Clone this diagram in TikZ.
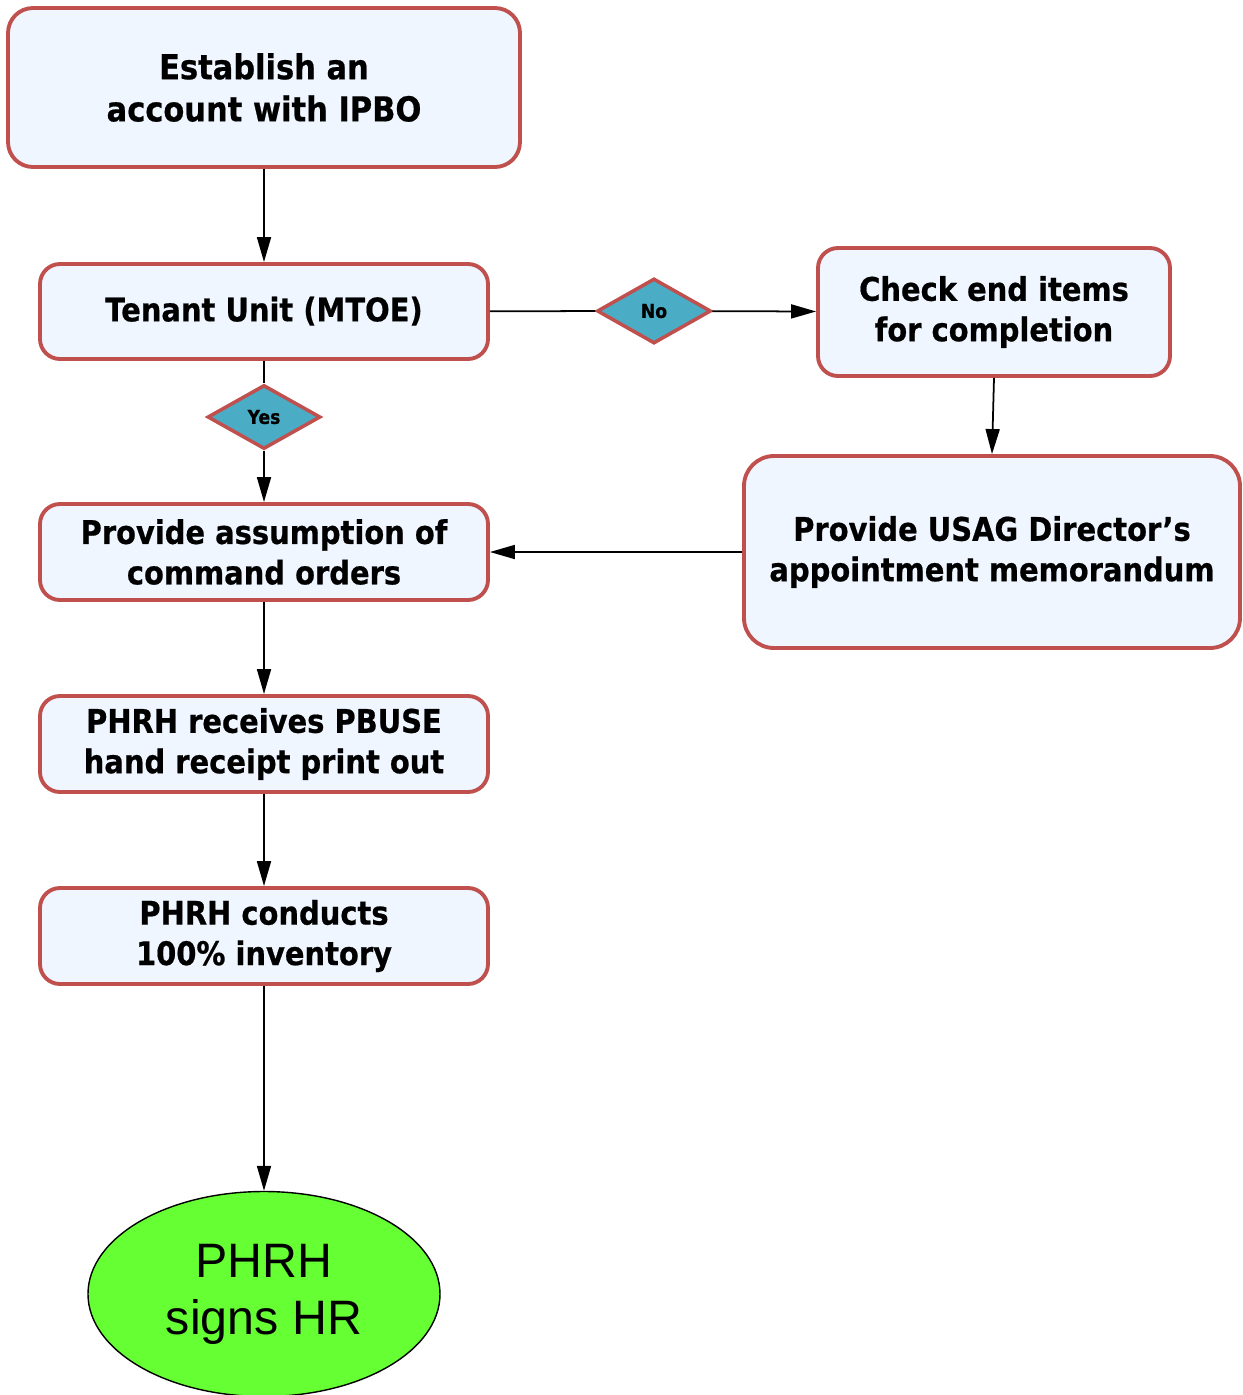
\documentclass[tikz,border=0pt]{standalone}
\usepackage{fontspec}
\setmainfont{DejaVu Sans}[BoldFeatures={FakeStretch=0.89, FakeBold=0.6}]
\newfontfamily\ellfont{Liberation Sans}
\usepackage{xcolor}
\usetikzlibrary{positioning,arrows.meta,shapes.geometric}
\definecolor{boxred}{RGB}{192, 80, 77}
\definecolor{boxfill}{RGB}{239, 246, 255}
\definecolor{decblue}{RGB}{75, 172, 198}
\definecolor{endgreen}{RGB}{102, 255, 51}

\begin{document}
\begin{tikzpicture}[
  box/.style={rectangle, rounded corners=0.4cm, draw=boxred, line width=2.2pt, fill=boxfill,
    align=center, font=\fontsize{18.5}{23}\selectfont\bfseries, inner sep=0pt},
  decision/.style={diamond, draw=boxred, line width=2pt, fill=decblue, inner sep=0pt,
    font=\fontsize{11}{12}\selectfont\bfseries},
  term/.style={ellipse, draw=black, line width=0.8pt, fill=endgreen, align=center,
    font=\ellfont\fontsize{27.5}{32.5}\selectfont},
  flow/.style={-{Triangle[length=0.5cm, width=0.28cm]}, line width=1pt},
]
\useasboundingbox (0,0) rectangle (24.84,-27.9);

\node[box, rounded corners=0.5cm, minimum width=10.24cm, minimum height=3.18cm,
  font=\fontsize{19.5}{24}\selectfont\bfseries] (account) at (5.28,-1.75) {Establish an\\account with IPBO};
\node[box, minimum width=8.96cm, minimum height=1.9cm, text depth=0.1cm] (tenant) at (5.28,-6.23) {Tenant Unit (MTOE)};
\node[decision, minimum width=2.26cm, minimum height=1.28cm] (yes) at (5.28,-8.34) {Yes};
\node[box, minimum width=8.96cm, minimum height=1.92cm] (assume) at (5.28,-11.04) {Provide assumption of\\command orders};
\node[box, minimum width=8.96cm, minimum height=1.92cm] (receipt) at (5.28,-14.88) {PHRH receives PBUSE\\hand receipt print out};
\node[box, minimum width=8.96cm, minimum height=1.92cm] (inventory) at (5.28,-18.72) {PHRH conducts\\100\% inventory};
\node[term, minimum width=7.04cm, minimum height=4.1cm] (signs) at (5.28,-25.88) {PHRH\\signs HR};

\node[decision, minimum width=2.28cm, minimum height=1.3cm] (no) at (13.08,-6.22) {No};
\node[box, minimum width=7.04cm, minimum height=2.56cm] (check) at (19.88,-6.24) {Check end items\\for completion};
\node[box, rounded corners=0.6cm, minimum width=9.92cm, minimum height=3.84cm] (memo) at (19.84,-11.04) {Provide USAG Director’s\\appointment memorandum};

\draw[flow] (account) -- (tenant);
\draw[line width=1pt] (tenant) -- (yes);
\draw[flow] (yes) -- (assume);
\draw[line width=1pt] (tenant) -- (no);
\draw[flow] (no) -- (check);
\draw[flow] (check.south) -- (memo.north);
\draw[flow] (memo) -- (assume);
\draw[flow] (assume) -- (receipt);
\draw[flow] (receipt) -- (inventory);
\draw[flow] (inventory) -- (signs);
\end{tikzpicture}
\end{document}
